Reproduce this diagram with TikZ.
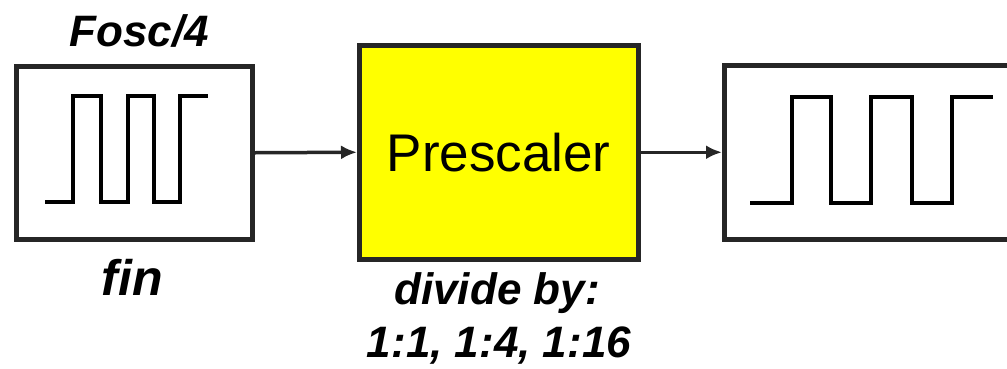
\documentclass[tikz,border=0pt]{standalone}
\usepackage{fontspec}
\setmainfont{Liberation Sans}
\usetikzlibrary{arrows.meta}
\definecolor{preyellow}{RGB}{255,255,0}
\begin{document}
\begin{tikzpicture}[x=1pt,y=-1pt,
  blockbox/.style={draw=black!85,line width=4.5pt,minimum width=#1,inner sep=0pt,anchor=north west},
  wave/.style={draw=black,line width=4pt,line join=miter},
  link/.style={draw=black!85,line width=3.5pt,-{Latex[length=16pt,width=14pt]}},
  lbl/.style={font=\fontsize{44}{48}\selectfont\bfseries\itshape,inner sep=0pt}]
\useasboundingbox (0,0) rectangle (1007,368);
\clip (0,0) rectangle (1007,368);
% input clock block
\node[blockbox=236pt,minimum height=173pt] (in) at (14,64) {};
% prescaler block
\node[blockbox=279pt,minimum height=214pt,fill=preyellow] (pre) at (357,43) {};
\node[font=\fontsize{53}{58}\selectfont] (pretxt) at (pre.center) {Prescaler};
% output clock block, running off the right edge
\node[blockbox=300pt,minimum height=174pt] (out) at (722,63) {};
% square waves
\draw[wave] (45,202) -| (73,96) -| (101,202) -| (128,96) -| (154,202) -| (180,96) -- (208,96);
\draw[wave] (750,203) -| (792,97) -| (831,203) -| (871,97) -| (912,203) -| (952,97) -- (993,97);
% connectors
\draw[link] (in.east) -- (pre.west);
\draw[link] (pre.east) -- (pre.east -| out.west);
% labels
\node[lbl] (fosc) at (139,31) {Fosc/4};
\node[lbl,font=\fontsize{50}{54}\selectfont\bfseries\itshape] (fin) at (132,277) {fin};
\node[lbl] (div) at (497,293) {divide by:};
\node[lbl] (ratio) at (499,346) {1:1, 1:4, 1:16};
\end{tikzpicture}
\end{document}
